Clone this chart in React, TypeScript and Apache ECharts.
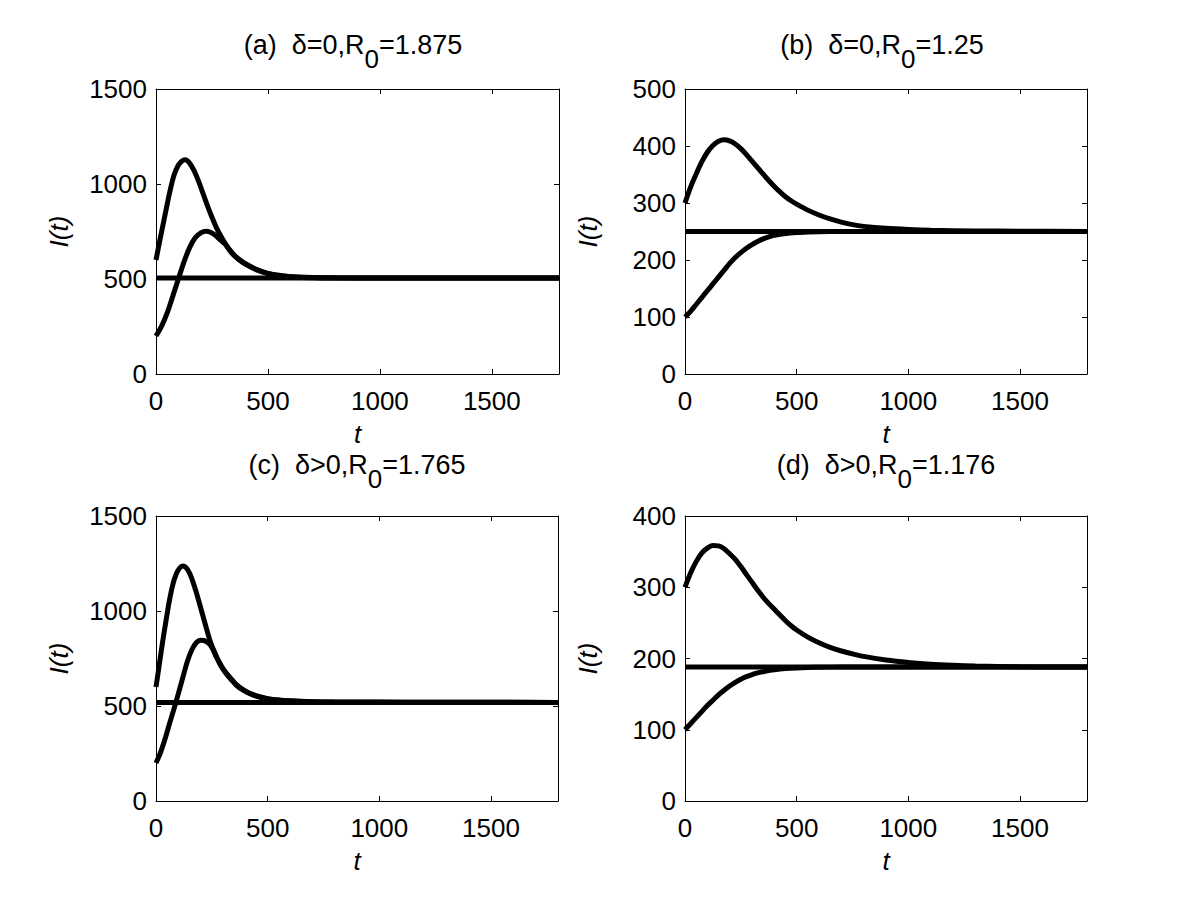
import React, { useEffect, useRef } from "react";
import * as echarts from "echarts";

const FONT = '"Liberation Sans", Arial, Helvetica, sans-serif';

const T_MAX = 1800;
const X_STEP = 500;

// ---- Panel (a): delta=0, R0=1.875 ----
const aTitle = ["(a)  δ=0,R", "0", "=1.875"];
const aYMax = 1500;
const aYStep = 500;
const aEq = 505;
const aUpperT = [0, 20, 40, 60, 80, 100, 115, 130, 150, 170, 190, 210, 230, 250, 270, 290, 310, 330, 350, 375, 400, 450, 500, 550, 600, 700, 800, 1000, 1800];
const aUpperV = [600, 720, 835, 950, 1045, 1100, 1120, 1127, 1110, 1070, 1015, 950, 885, 825, 770, 725, 685, 652, 625, 600, 580, 550, 530, 520, 513, 508, 506, 505.3, 505];
const aLowerT = [0, 25, 50, 75, 100, 125, 150, 175, 200, 225, 250, 270, 290, 310, 330, 350, 375, 400, 450, 500, 550, 600, 700, 800, 1800];
const aLowerV = [200, 252, 322, 410, 500, 590, 665, 717, 743, 751, 742, 725, 703, 682, 649, 622, 597, 577, 548, 528, 517, 511, 507, 505.5, 505];

// ---- Panel (b): delta=0, R0=1.25 ----
const bTitle = ["(b)  δ=0,R", "0", "=1.25"];
const bYMax = 500;
const bYStep = 100;
const bEq = 250;
const bUpperT = [0, 25, 50, 75, 100, 125, 150, 175, 200, 225, 250, 275, 300, 325, 350, 375, 400, 425, 450, 475, 500, 550, 600, 650, 700, 750, 800, 900, 1000, 1100, 1300, 1500, 1800];
const bUpperV = [300, 328, 351, 372, 389, 401, 408.5, 411, 409, 403.5, 395.5, 385, 373.5, 362, 350.5, 339.5, 329, 319.5, 311, 304, 298, 287.5, 279, 272, 266.5, 262, 259, 255.5, 253.5, 252.2, 251, 250.5, 250];
const bLowerT = [0, 25, 50, 75, 100, 125, 150, 175, 200, 225, 250, 275, 300, 325, 350, 375, 400, 450, 500, 550, 600, 700, 1800];
const bLowerV = [100, 110, 122, 134, 146, 158, 170, 182, 194, 204.5, 213, 220.5, 227, 232.5, 237, 240.5, 243.2, 246.5, 248.3, 249.2, 249.7, 250, 250];

// ---- Panel (c): delta>0, R0=1.765 ----
const cTitle = ["(c)  δ>0,R", "0", "=1.765"];
const cYMax = 1500;
const cYStep = 500;
const cEq = 519;
const cUpperT = [0, 15, 30, 45, 60, 75, 90, 105, 120, 135, 150, 165, 180, 195, 210, 225, 240, 255, 270, 285, 300, 320, 340, 360, 390, 420, 460, 500, 550, 600, 700, 800, 1000, 1200, 1800];
const cUpperV = [600, 720, 840, 950, 1055, 1138, 1193, 1225, 1237, 1228, 1200, 1155, 1100, 1038, 975, 912, 850, 803, 762, 727, 697, 665, 638, 612, 586, 567, 550, 539, 531, 527, 523, 521.5, 520.5, 519.5, 519];
const cLowerT = [0, 20, 40, 60, 80, 100, 120, 140, 160, 180, 200, 215, 230, 242, 255, 270, 285, 300, 320, 340, 360, 390, 420, 460, 500, 550, 600, 700, 800, 1800];
const cLowerV = [200, 255, 325, 405, 483, 565, 650, 733, 795, 833, 846, 845, 835, 822, 798, 759, 724, 694, 662, 635, 609, 583, 565, 548, 537, 530, 526, 522, 520.5, 519];

// ---- Panel (d): delta>0, R0=1.176 ----
const dTitle = ["(d)  δ>0,R", "0", "=1.176"];
const dYMax = 400;
const dYStep = 100;
const dEq = 188;
const dUpperT = [0, 25, 50, 75, 100, 125, 150, 175, 200, 225, 250, 275, 300, 325, 350, 375, 400, 425, 450, 475, 500, 550, 600, 650, 700, 750, 800, 900, 1000, 1100, 1200, 1300, 1500, 1800];
const dUpperV = [300, 320, 336, 348, 355, 358.5, 358, 354, 347, 339, 329, 318, 307, 296, 286, 277, 269, 261, 253, 246, 240, 230, 222, 215.5, 210.5, 206.5, 203, 198, 194.5, 192, 190.5, 189.5, 188.5, 188];
const dLowerT = [0, 25, 50, 75, 100, 125, 150, 175, 200, 225, 250, 275, 300, 325, 350, 375, 400, 450, 500, 550, 600, 700, 1800];
const dLowerV = [100, 108.5, 117, 125.5, 134, 141.5, 149, 155.5, 161.5, 166.5, 171, 174.5, 177.5, 179.8, 181.5, 183, 184.2, 185.8, 186.8, 187.4, 187.7, 188, 188];

const zip = (t: number[], v: number[]) => t.map((x, i) => [x, v[i]]);

const panels = [
  { title: aTitle, yMax: aYMax, yStep: aYStep, eq: aEq, up: zip(aUpperT, aUpperV), lo: zip(aLowerT, aLowerV) },
  { title: bTitle, yMax: bYMax, yStep: bYStep, eq: bEq, up: zip(bUpperT, bUpperV), lo: zip(bLowerT, bLowerV) },
  { title: cTitle, yMax: cYMax, yStep: cYStep, eq: cEq, up: zip(cUpperT, cUpperV), lo: zip(cLowerT, cLowerV) },
  { title: dTitle, yMax: dYMax, yStep: dYStep, eq: dEq, up: zip(dUpperT, dUpperV), lo: zip(dLowerT, dLowerV) },
];

// layout (pixels)
const grids = [
  { left: 156, top: 89, width: 403, height: 285 },
  { left: 685, top: 89, width: 402, height: 285 },
  { left: 156, top: 516, width: 402, height: 285 },
  { left: 685, top: 516, width: 402, height: 285 },
];
const titlePos = [
  { x: 353, y: 45 },
  { x: 882, y: 45 },
  { x: 357, y: 465 },
  { x: 886, y: 465 },
];

const plainNum = (v: number) => String(v);

export default function App() {
  const ref = useRef<HTMLDivElement>(null);

  useEffect(() => {
    if (!ref.current) return;
    const chart = echarts.init(ref.current, undefined, { renderer: "svg" });

    const lineStyle = { color: "#000", width: 1 };
    const xAxis: any[] = [];
    const yAxis: any[] = [];
    const series: any[] = [];
    const graphic: any[] = [];

    panels.forEach((p, i) => {
      xAxis.push({
        type: "value",
        gridIndex: i,
        position: "bottom",
        min: 0,
        max: T_MAX,
        interval: X_STEP,
        name: "t",
        nameLocation: "middle",
        nameGap: 47,
        nameTextStyle: { fontFamily: FONT, fontSize: 26, fontStyle: "italic", color: "#000" },
        axisLine: { show: true, onZero: false, lineStyle },
        axisTick: { show: true, inside: true, length: 5, lineStyle },
        axisLabel: { show: true, margin: 14, fontFamily: FONT, fontSize: 26, color: "#000", showMaxLabel: false, formatter: plainNum },
        splitLine: { show: false },
      });
      xAxis.push({
        type: "value",
        gridIndex: i,
        position: "top",
        min: 0,
        max: T_MAX,
        interval: X_STEP,
        axisLine: { show: true, onZero: false, lineStyle },
        axisTick: { show: true, inside: true, length: 5, lineStyle },
        axisLabel: { show: false },
        splitLine: { show: false },
      });
      yAxis.push({
        type: "value",
        gridIndex: i,
        position: "left",
        min: 0,
        max: p.yMax,
        interval: p.yStep,
        name: "I(t)",
        nameLocation: "middle",
        nameGap: 84,
        nameTextStyle: { fontFamily: FONT, fontSize: 26, fontStyle: "italic", color: "#000" },
        axisLine: { show: true, onZero: false, lineStyle },
        axisTick: { show: true, inside: true, length: 5, lineStyle },
        axisLabel: { show: true, margin: 9, fontFamily: FONT, fontSize: 26, color: "#000", formatter: plainNum },
        splitLine: { show: false },
      });
      yAxis.push({
        type: "value",
        gridIndex: i,
        position: "right",
        min: 0,
        max: p.yMax,
        interval: p.yStep,
        axisLine: { show: true, onZero: false, lineStyle },
        axisTick: { show: true, inside: true, length: 5, lineStyle },
        axisLabel: { show: false },
        splitLine: { show: false },
      });

      const common = {
        type: "line",
        xAxisIndex: 2 * i,
        yAxisIndex: 2 * i,
        showSymbol: false,
        symbol: "none",
        smooth: 0.3,
        lineStyle: { color: "#000", width: 5 },
        itemStyle: { color: "#000" },
        silent: true,
      };
      series.push({ ...common, name: `up${i}`, data: p.up });
      series.push({ ...common, name: `lo${i}`, data: p.lo });
      series.push({ ...common, name: `eq${i}`, smooth: false, data: [[0, p.eq], [T_MAX, p.eq]] });

      graphic.push({
        type: "text",
        x: titlePos[i].x,
        y: titlePos[i].y,
        style: {
          text: `{t|${p.title[0]}}{s|${p.title[1]}}{t|${p.title[2]}}`,
          rich: {
            t: { fontFamily: FONT, fontSize: 27, fill: "#000" },
            s: { fontFamily: FONT, fontSize: 26, fill: "#000", padding: [27, 0, 0, 0] },
          },
          fill: "#000",
          align: "center",
          verticalAlign: "middle",
        },
      });
    });

    chart.setOption({
      animation: false,
      backgroundColor: "#fff",
      grid: grids.map((g) => ({ ...g, containLabel: false })),
      xAxis,
      yAxis,
      series,
      graphic,
    });

    return () => chart.dispose();
  }, []);

  return (
    <div
      ref={ref}
      style={{ position: "fixed", left: 0, top: 0, width: 1200, height: 903, background: "#fff" }}
    />
  );
}
